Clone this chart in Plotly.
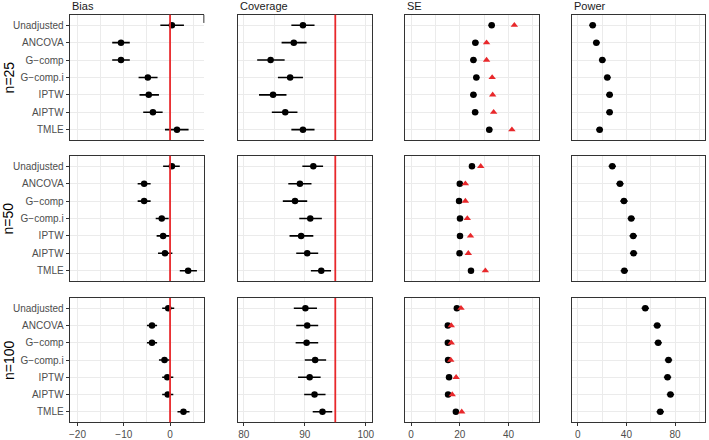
import plotly.graph_objects as go
from plotly.subplots import make_subplots

methods = ["Unadjusted", "ANCOVA", "G\u2212comp", "G\u2212comp.i", "IPTW", "AIPTW", "TMLE"]
sample_sizes = ["n=25", "n=50", "n=100"]
metrics = ["Bias", "Coverage", "SE", "Power"]

bias_est = [
    [0.4, -10.6, -10.6, -4.8, -4.6, -3.7, 1.5],
    [0.4, -5.6, -5.6, -1.8, -1.5, -1.1, 3.9],
    [-0.4, -3.9, -3.9, -1.2, -0.6, -0.5, 2.9]]
bias_lo = [
    [-2.1, -12.5, -12.5, -6.8, -6.6, -5.8, -1.1],
    [-1.5, -7.0, -7.0, -3.1, -2.9, -2.6, 2.1],
    [-1.7, -5.0, -5.0, -2.4, -1.7, -1.7, 1.6]]
bias_hi = [
    [3.0, -8.7, -8.7, -2.7, -2.4, -1.6, 4.0],
    [2.1, -4.2, -4.2, -0.3, -0.1, 0.5, 5.8],
    [0.9, -2.8, -2.8, 0.0, 0.7, 0.7, 4.2]]

cov_est = [
    [89.7, 88.2, 84.4, 87.6, 84.8, 86.8, 89.7],
    [91.4, 89.2, 88.4, 90.9, 89.4, 90.4, 92.7],
    [90.1, 90.4, 90.3, 91.7, 90.8, 91.6, 92.9]]
cov_lo = [
    [87.8, 86.2, 82.2, 85.6, 82.5, 84.6, 87.8],
    [89.6, 87.3, 86.4, 89.1, 87.5, 88.6, 91.0],
    [88.2, 88.6, 88.5, 90.0, 88.9, 89.9, 91.3]]
cov_hi = [
    [91.6, 90.3, 86.7, 89.7, 87.0, 88.8, 91.6],
    [93.0, 91.1, 90.4, 92.8, 91.4, 92.2, 94.3],
    [92.0, 92.2, 92.2, 93.5, 92.6, 93.4, 94.5]]

se_emp = [
    [33.1, 26.4, 25.6, 26.8, 25.6, 26.3, 32.1],
    [25.0, 20.0, 19.7, 20.1, 20.1, 19.9, 24.6],
    [18.8, 15.1, 15.1, 15.2, 15.6, 15.2, 18.4]]
se_emp_err = [1.3, 0.9, 0.7]
se_model = [
    [42.4, 31.0, 31.0, 33.3, 33.5, 33.9, 41.4],
    [28.6, 22.3, 22.3, 23.1, 24.4, 23.5, 30.5],
    [20.5, 16.5, 16.5, 16.3, 18.5, 16.9, 20.8]]

power_est = [
    [12.3, 15.3, 20.2, 24.3, 26.2, 26.2, 18.0],
    [28.4, 34.7, 38.0, 44.0, 45.6, 45.9, 38.3],
    [55.5, 65.3, 66.1, 74.6, 73.8, 76.2, 67.8]]
power_err = [2.8, 3.0, 3.0]

ref_lines = {"Bias": 0, "Coverage": 95}
x_ranges = {"Bias": [-21.7, 7.3], "Coverage": [79.0, 101.0], "SE": [-2.6, 52.5], "Power": [-4.9, 104.6]}
x_major = {"Bias": (0, 10), "Coverage": (80, 10), "SE": (0, 20), "Power": (0, 40)}
x_minor = {"Bias": 5, "Coverage": 5, "SE": 10, "Power": 20}

W, H = 709, 440
col_px = [(69, 204), (238, 373), (406, 541), (574, 708)]
row_px = [(15, 142), (158, 285), (302, 428)]

FONT = "Liberation Sans, Arial, Helvetica, sans-serif"
BLACK = "#000000"
RED = "#e8282b"
BORDER = "#333333"
GRID = "#ebebeb"

fig = make_subplots(rows=3, cols=4)

def err(est, lo, hi):
    return dict(type="data", symmetric=False,
                array=[h - e for e, h in zip(est, hi)],
                arrayminus=[e - l for e, l in zip(est, lo)],
                color=BLACK, thickness=1.6, width=0)

for r in range(3):
    for c, m in enumerate(metrics):
        row, col = r + 1, c + 1
        if m == "Bias":
            fig.add_trace(go.Scatter(x=bias_est[r], y=methods, mode="markers",
                                     marker=dict(color=BLACK, size=6.5),
                                     error_x=err(bias_est[r], bias_lo[r], bias_hi[r]),
                                     showlegend=False), row=row, col=col)
        elif m == "Coverage":
            fig.add_trace(go.Scatter(x=cov_est[r], y=methods, mode="markers",
                                     marker=dict(color=BLACK, size=6.5),
                                     error_x=err(cov_est[r], cov_lo[r], cov_hi[r]),
                                     showlegend=False), row=row, col=col)
        elif m == "SE":
            lo = [v - se_emp_err[r] for v in se_emp[r]]
            hi = [v + se_emp_err[r] for v in se_emp[r]]
            fig.add_trace(go.Scatter(x=se_emp[r], y=methods, mode="markers",
                                     marker=dict(color=BLACK, size=6.5),
                                     error_x=err(se_emp[r], lo, hi),
                                     showlegend=False), row=row, col=col)
            fig.add_trace(go.Scatter(x=se_model[r], y=methods, mode="markers",
                                     marker=dict(color=RED, size=6.5, symbol="triangle-up"),
                                     showlegend=False), row=row, col=col)
        else:
            lo = [v - power_err[r] for v in power_est[r]]
            hi = [v + power_err[r] for v in power_est[r]]
            fig.add_trace(go.Scatter(x=power_est[r], y=methods, mode="markers",
                                     marker=dict(color=BLACK, size=6.5),
                                     error_x=err(power_est[r], lo, hi),
                                     showlegend=False), row=row, col=col)
        if m in ref_lines:
            fig.add_vline(x=ref_lines[m], line=dict(color=RED, width=1.8), layer="above",
                          row=row, col=col)

        x0p, x1p = col_px[c]
        y0p, y1p = row_px[r]
        bottom = (r == 2)
        first = (c == 0)
        broken = (r == 0 and c == 0)
        t0, dt = x_major[m]
        fig.update_xaxes(row=row, col=col,
                         domain=[x0p / W, x1p / W], range=x_ranges[m],
                         tick0=t0, dtick=dt, tickmode="linear",
                         showgrid=True, gridcolor=GRID, gridwidth=1,
                         minor=dict(tick0=t0, dtick=x_minor[m], showgrid=True,
                                    gridcolor=GRID, gridwidth=0.6, ticks=""),
                         zeroline=False, showline=True, mirror=True,
                         linecolor=BORDER, linewidth=1,
                         showticklabels=bottom, ticks="outside" if bottom else "",
                         ticklen=3, tickcolor=BORDER, tickwidth=1,
                         tickfont=dict(family=FONT, size=10, color="#4d4d4d"))
        fig.update_yaxes(row=row, col=col,
                         domain=[1 - y1p / H, 1 - y0p / H],
                         type="category", categoryorder="array", categoryarray=methods,
                         range=[6.6, -0.6],
                         showgrid=True, gridcolor=GRID, gridwidth=1,
                         zeroline=False, showline=True, mirror=not broken,
                         linecolor=BORDER, linewidth=1,
                         showticklabels=first, ticks="outside" if first else "",
                         ticklen=3, tickcolor=BORDER, tickwidth=1,
                         tickfont=dict(family=FONT, size=10, color="#4d4d4d"))

# short right border segment of the top-left panel (as in the reference)
fig.add_shape(type="line", xref="x domain", yref="y domain", x0=1, x1=1, y0=0.935, y1=1,
              line=dict(color=BORDER, width=1))

annotations = []
for c, m in enumerate(metrics):
    annotations.append(dict(text=m, x=col_px[c][0] / W, y=1 - 6 / H, xref="paper", yref="paper",
                            xanchor="left", yanchor="middle", showarrow=False,
                            font=dict(family=FONT, size=11, color="#1a1a1a")))
for r, n in enumerate(sample_sizes):
    yc = (row_px[r][0] + row_px[r][1]) / 2
    annotations.append(dict(text=n, x=8 / W, y=1 - yc / H, xref="paper", yref="paper",
                            xanchor="center", yanchor="middle", textangle=-90, showarrow=False,
                            font=dict(family=FONT, size=14, color="#000000")))

fig.update_layout(width=W, height=H, margin=dict(l=0, r=0, t=0, b=0),
                  paper_bgcolor="white", plot_bgcolor="white",
                  annotations=annotations, showlegend=False)

fig.write_html("out.html", config={"displayModeBar": False},
               post_script="document.body.style.margin='0';document.body.style.padding='0';"
                           "document.body.style.overflow='hidden';")
